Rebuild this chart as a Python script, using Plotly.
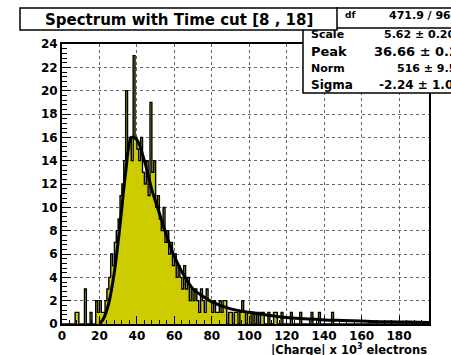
import numpy as np
import plotly.graph_objects as go

# ---------------- data ----------------
bin_width = 1
counts = [
    0, 0, 0, 0, 0, 0, 0, 1, 1, 0,          # 0-9
    0, 0, 3, 0, 0, 1, 0, 0, 2, 1,          # 10-19
    2, 1, 1, 2, 3, 4, 6, 5, 7, 8,          # 20-29
    9, 11, 12, 14, 20, 15, 16, 14, 23, 16,  # 30-39
    15, 14, 16, 13, 12, 14, 11, 19, 13, 14,  # 40-49
    10, 11, 9, 8, 10, 7, 8, 6, 7, 5,        # 50-59
    6, 4, 5, 4, 3, 5, 3, 4, 2, 3,          # 60-69
    2, 3, 2, 1, 3, 2, 1, 3, 2, 2,          # 70-79
    1, 2, 1, 1, 2, 1, 2, 2, 0, 1,          # 80-89
    1, 0, 1, 1, 0, 1, 2, 1, 0, 1,          # 90-99
    1, 0, 1, 0, 1, 0, 1, 1, 0, 0,          # 100-109
    1, 0, 0, 1, 1, 0, 0, 1, 0, 0,          # 110-119
    0, 0, 1, 0, 0, 0, 0, 1, 0, 0,          # 120-129
    0, 0, 0, 1, 0, 0, 0, 1, 0, 0,          # 130-139
    0, 0, 0, 0, 1, 0, 0, 0, 0, 0,          # 140-149
    0, 0, 0, 0, 0, 0, 0, 0, 0, 0,          # 150-159
    0, 0, 0, 0, 0, 0, 0, 0, 0, 0,          # 160-169
    0, 0, 0, 0, 0, 0, 0, 0, 0, 0,          # 170-179
    0, 0, 0, 0, 0, 0, 0, 0, 0, 0,          # 180-189
    0, 0, 0, 0, 0, 0,                      # 190-195
]
fit_x = [20, 22, 25, 28, 31, 34, 37, 40, 44, 48, 52, 56, 60, 65, 70, 75, 80,
         90, 100, 110, 120, 130, 140, 150, 160, 170, 180, 190, 196]
fit_y = [0, 0.4, 1.8, 4.5, 8.5, 13, 16, 15.8, 14, 11.5, 9.5, 7.5, 5.8, 4.2, 3.0,
         2.4, 1.9, 1.3, 1.0, 0.75, 0.55, 0.45, 0.35, 0.3, 0.25, 0.2, 0.18, 0.15, 0.13]

title_text = "Spectrum with Time cut [8 , 18]"
x_title = "|Charge| x 10<sup>3</sup> electrons"
stat_names = ["Scale", "Peak", "Norm", "Sigma"]
stat_values = ["5.62 \u00b1 0.20", "36.66 \u00b1 0.22", "516 \u00b1 9.5", "-2.24 \u00b1 1.03"]
chi2_text = "471.9 / 96"
x_ticks = [0, 20, 40, 60, 80, 100, 120, 140, 160, 180]
y_ticks = [0, 2, 4, 6, 8, 10, 12, 14, 16, 18, 20, 22, 24]

# ---------------- geometry ----------------
W, H = 451, 355
L, R, T, B = 62, 429, 44, 324
FONT = "DejaVu Sans"


def px(xp):
    return (xp - L) / (R - L)


def py(yp):
    return (B - yp) / (B - T)


n = len(counts)
edges = np.arange(n + 1) * bin_width
centers = edges[:-1] + bin_width / 2
step_x = list(edges)
step_y = list(counts) + [counts[-1]]

YEL = "#cccc00"

fig = go.Figure()
fig.add_trace(go.Bar(x=centers, y=counts, width=bin_width,
                     marker=dict(color=YEL, line=dict(width=0)),
                     showlegend=False, hoverinfo="skip"))
fig.add_trace(go.Scatter(x=step_x, y=step_y, mode="lines",
                         line=dict(color="black", width=1.4, shape="hv"),
                         showlegend=False, hoverinfo="skip"))
fig.add_trace(go.Scatter(x=fit_x, y=fit_y, mode="lines",
                         line=dict(color="black", width=3, shape="spline", smoothing=0.8),
                         showlegend=False, hoverinfo="skip"))

tickfont = dict(family=FONT, size=12, color="black", weight="bold")

fig.update_layout(
    width=W, height=H,
    margin=dict(l=L, r=W - R, t=T, b=H - B),
    paper_bgcolor="white", plot_bgcolor="white",
    bargap=0,
    xaxis=dict(range=[0, 196], tickvals=x_ticks, ticks="inside", ticklen=8,
               tickcolor="black", tickwidth=1, ticklabelstandoff=0,
               minor=dict(dtick=4, tick0=0, ticks="inside", ticklen=4, tickcolor="black",
                          showgrid=False),
               showline=True, mirror=True, linecolor="black", linewidth=2,
               showgrid=True, gridcolor="#666666", griddash="dot", gridwidth=1,
               tickfont=tickfont, zeroline=False),
    yaxis=dict(range=[0, 24], tickvals=y_ticks, ticks="inside", ticklen=9,
               tickcolor="black", tickwidth=1,
               minor=dict(dtick=0.4, tick0=0, ticks="inside", ticklen=5, tickcolor="black",
                          showgrid=False),
               showline=True, mirror=True, linecolor="black", linewidth=2,
               showgrid=True, gridcolor="#666666", griddash="dot", gridwidth=1,
               tickfont=tickfont, zeroline=False),
)

shapes = []
# stats box (outer top line + inner box)
shapes.append(dict(type="line", xref="paper", yref="paper",
                   x0=px(336), x1=px(460), y0=py(8), y1=py(8),
                   line=dict(color="black", width=1.5)))
shapes.append(dict(type="rect", xref="paper", yref="paper",
                   x0=px(303), x1=px(470), y0=py(93), y1=py(28),
                   fillcolor="white", line=dict(color="black", width=1.5)))
# title box
shapes.append(dict(type="rect", xref="paper", yref="paper",
                   x0=px(20), x1=px(337), y0=py(30), y1=py(8),
                   fillcolor="white", line=dict(color="black", width=1.5)))
fig.update_layout(shapes=shapes)

ann = []
ann.append(dict(text=title_text, xref="paper", yref="paper", x=px(179), y=py(19.5),
                xanchor="center", yanchor="middle", showarrow=False,
                font=dict(family=FONT, size=15, color="black", weight="bold")))
ann.append(dict(text="df", xref="paper", yref="paper", x=px(343), y=py(15),
                xanchor="left", yanchor="middle", showarrow=False,
                font=dict(family=FONT, size=9, color="black", weight="bold")))
ann.append(dict(text=chi2_text, xref="paper", yref="paper", x=px(387), y=py(16),
                xanchor="left", yanchor="middle", showarrow=False,
                font=dict(family=FONT, size=11, color="black", weight="bold")))
row_y = [35, 51, 68, 85]
name_sizes = [11, 13, 11, 12]
val_x = [382, 372, 395, 377]
val_sizes = [11, 13, 11, 12]
for name, val, yy, ns, vx, vs in zip(stat_names, stat_values, row_y, name_sizes, val_x, val_sizes):
    ann.append(dict(text=name, xref="paper", yref="paper", x=px(309), y=py(yy),
                    xanchor="left", yanchor="middle", showarrow=False,
                    font=dict(family=FONT, size=ns, color="black", weight="bold")))
    ann.append(dict(text=val, xref="paper", yref="paper", x=px(vx), y=py(yy),
                    xanchor="left", yanchor="middle", showarrow=False,
                    font=dict(family=FONT, size=vs, color="black", weight="bold")))
ann.append(dict(text=x_title, xref="paper", yref="paper", x=px(428), y=py(349.5),
                xanchor="right", yanchor="middle", showarrow=False, borderpad=0,
                font=dict(family=FONT, size=11.5, color="black", weight="bold")))
fig.update_layout(annotations=ann)

fig.write_html("out.html")
